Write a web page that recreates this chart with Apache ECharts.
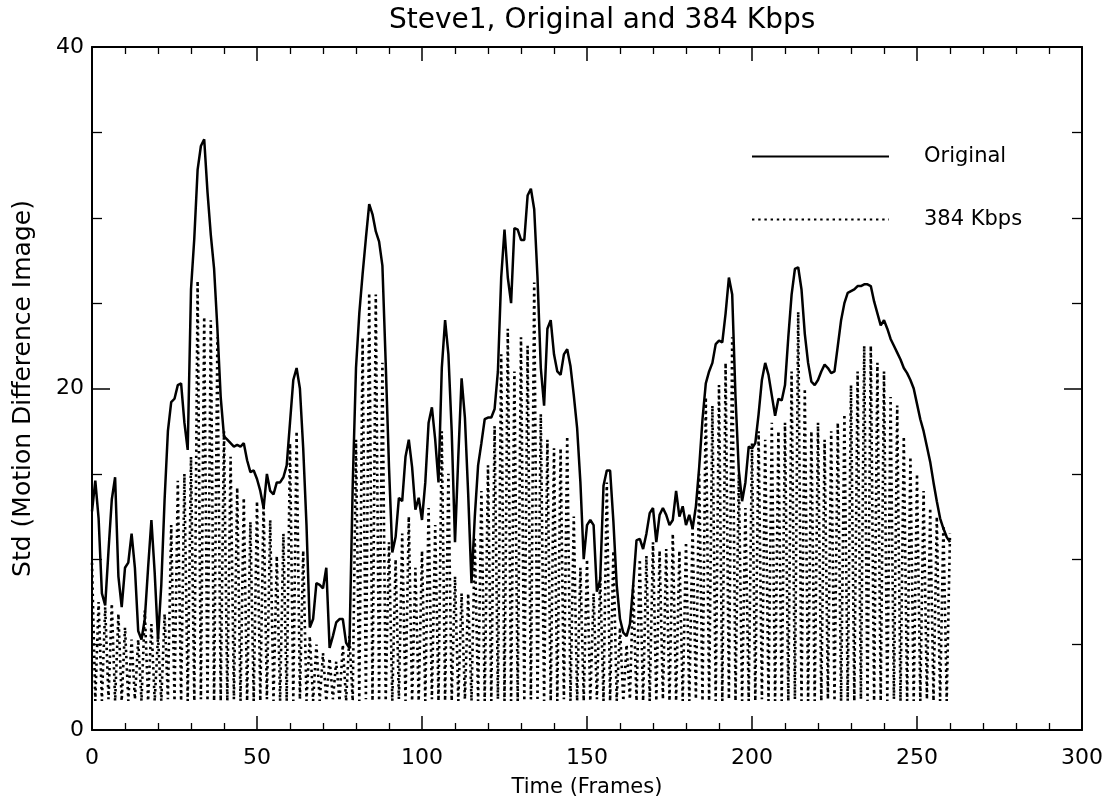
<!DOCTYPE html>
<html>
<head>
<meta charset="utf-8">
<script src="https://cdn.jsdelivr.net/npm/echarts@6/dist/echarts.min.js"></script>
<style>
html,body{margin:0;padding:0;background:#fff;}
#chart{width:1106px;height:808px;}
</style>
</head>
<body>
<div id="chart"></div>
<script>
// ---- data ----
const title = "Steve1, Original and 384 Kbps";
const xTicks = [0, 50, 100, 150, 200, 250, 300];
const yTicks = [0, 20, 40];
const seriesNames = ["Original", "384 Kbps"];

// Std of motion difference image, original sequence, frames 0..260
const original = [
  12.8,14.6,12.4,8.0,7.3,10.5,13.5,14.8,9.0,7.2,
  9.5,9.8,11.5,9.5,5.8,5.3,6.5,9.5,12.3,9.2,
  5.3,8.5,13.5,17.5,19.2,19.4,20.2,20.3,18.0,16.4,
  25.8,28.8,32.8,34.2,34.6,31.5,29.0,27.0,23.5,19.5,
  17.2,17.0,16.8,16.6,16.7,16.6,16.8,15.8,15.1,15.2,
  14.7,14.0,13.0,15.0,14.0,13.8,14.5,14.5,14.8,15.5,
  18.0,20.5,21.2,20.0,16.5,12.0,6.0,6.5,8.6,8.5,
  8.3,9.5,4.8,5.5,6.3,6.5,6.5,5.1,4.8,14.3,
  21.2,24.4,26.7,28.8,30.8,30.2,29.2,28.6,27.2,21.5,
  15.4,10.4,11.3,13.6,13.4,16.0,17.0,15.4,12.9,13.6,
  12.3,14.5,18.0,18.9,17.0,14.5,21.2,24.0,22.0,17.5,
  11.0,16.0,20.6,18.3,13.8,8.6,12.5,15.5,16.8,18.2,
  18.3,18.3,18.8,21.0,26.5,29.3,26.5,25.0,29.4,29.3,
  28.7,28.7,31.3,31.7,30.5,26.5,21.2,19.0,23.5,24.0,
  22.0,21.0,20.8,22.0,22.3,21.3,19.6,17.7,14.5,10.0,
  12.0,12.3,12.0,8.1,8.8,14.3,15.2,15.2,12.2,8.5,
  6.5,5.7,5.5,6.2,8.5,11.1,11.2,10.6,11.5,12.7,
  13.0,11.0,12.6,13.0,12.6,12.0,12.3,14.0,12.5,13.1,
  12.0,12.6,11.8,13.1,15.4,18.2,20.3,21.0,21.5,22.6,
  22.8,22.7,24.4,26.5,25.5,19.5,15.2,13.4,14.5,16.6,
  16.5,16.8,18.5,20.5,21.5,20.8,19.6,18.4,19.4,19.3,
  20.2,23.0,25.5,27.0,27.1,25.8,23.2,21.5,20.4,20.2,
  20.5,21.0,21.4,21.2,20.9,21.0,22.5,24.0,25.0,25.6,
  25.7,25.8,26.0,26.0,26.1,26.1,26.0,25.1,24.4,23.7,
  24.0,23.5,22.9,22.5,22.1,21.7,21.2,20.9,20.5,20.0,
  19.1,18.2,17.5,16.6,15.7,14.5,13.4,12.4,11.8,11.3,
  11.0
];

// 384 Kbps coded sequence, frames 0..260 (alternating high / low frames)
const kbps384 = [
  9.8,1.7,7.5,1.7,7.2,1.8,7.4,1.7,6.8,1.7,
  6.0,1.7,5.3,1.8,5.3,1.7,7.0,1.7,6.2,1.7,
  5.5,1.7,6.8,1.8,12.0,1.7,14.6,1.7,15.0,1.7,
  16.0,1.7,26.3,1.8,24.2,1.7,24.0,1.7,23.0,1.7,
  17.5,1.7,16.0,1.8,14.2,1.7,13.6,1.7,12.2,1.7,
  13.4,1.7,13.4,1.8,12.3,1.7,10.2,1.7,11.5,1.7,
  16.8,1.7,17.5,1.8,10.5,1.7,5.5,1.7,5.0,1.7,
  4.5,1.7,4.2,1.8,4.0,1.7,5.0,1.7,5.5,1.7,
  17.0,1.7,23.0,1.8,25.6,1.7,25.5,1.7,21.5,1.7,
  11.0,1.7,10.0,1.8,11.5,1.7,12.5,1.7,9.5,1.7,
  10.5,1.7,13.0,1.8,12.0,1.7,17.5,1.7,15.0,1.7,
  9.0,1.7,8.0,1.8,8.0,1.7,11.2,1.7,14.0,1.7,
  15.5,1.7,17.8,1.8,22.0,1.7,23.5,1.7,21.0,1.7,
  23.0,1.7,22.5,1.8,26.2,1.7,18.5,1.7,17.0,1.7,
  16.5,1.7,16.5,1.8,17.2,1.7,12.5,1.7,9.5,1.7,
  10.0,1.7,8.0,1.8,9.0,1.7,14.5,1.7,10.5,1.7,
  6.0,1.7,5.0,1.8,8.5,1.7,10.0,1.7,10.2,1.7,
  11.0,1.7,10.5,1.8,10.6,1.7,11.5,1.7,10.5,1.7,
  11.0,1.7,12.0,1.8,15.0,1.7,19.5,1.7,19.0,1.7,
  20.2,1.7,21.5,1.8,23.0,1.7,15.0,1.7,13.0,1.7,
  16.8,1.7,17.5,1.8,17.0,1.7,18.0,1.7,17.5,1.7,
  18.0,1.7,21.0,1.8,24.5,1.7,20.0,1.7,17.5,1.7,
  18.0,1.7,17.0,1.8,17.5,1.7,18.0,1.7,18.5,1.7,
  20.2,1.7,21.0,1.8,22.5,1.7,22.5,1.7,21.5,1.7,
  21.0,1.7,19.5,1.8,19.0,1.7,17.2,1.7,16.0,1.7,
  15.0,1.7,14.0,1.8,13.0,1.7,12.5,1.7,12.0,1.7,
  11.5
];

// ---- chart ----
const FONT = "DejaVu Sans";
const frames = original.map((_, i) => i);
const chart = echarts.init(document.getElementById('chart'), null, {renderer: 'canvas'});

const axisLineStyle = {color: '#000', width: 2};
function xAx(pos, showLabel) {
  return {
    type: 'value', position: pos, min: xTicks[0], max: xTicks[xTicks.length - 1],
    interval: xTicks[1] - xTicks[0],
    axisLine: {show: true, onZero: false, lineStyle: axisLineStyle},
    axisTick: {show: true, inside: true, length: 14, lineStyle: {color: '#000', width: 1.5}},
    minorTick: {show: true, splitNumber: 5, length: 7, lineStyle: {color: '#000', width: 1.3}},
    splitLine: {show: false}, minorSplitLine: {show: false},
    axisLabel: {show: showLabel, color: '#000', fontFamily: FONT, fontSize: 22, margin: 17},
    name: showLabel ? 'Time (Frames)' : '', nameLocation: 'middle', nameGap: 47,
    nameTextStyle: {color: '#000', fontFamily: FONT, fontSize: 21}
  };
}
function yAx(pos, showLabel) {
  return {
    type: 'value', position: pos, min: yTicks[0], max: yTicks[yTicks.length - 1],
    interval: yTicks[1] - yTicks[0],
    axisLine: {show: true, onZero: false, lineStyle: axisLineStyle},
    axisTick: {show: true, inside: true, length: 18, lineStyle: {color: '#000', width: 1.5}},
    minorTick: {show: true, splitNumber: 4, length: 10, lineStyle: {color: '#000', width: 1.3}},
    splitLine: {show: false}, minorSplitLine: {show: false},
    axisLabel: {show: showLabel, color: '#000', fontFamily: FONT, fontSize: 22, margin: 8},
    name: showLabel ? 'Std (Motion Difference Image)' : '', nameLocation: 'middle', nameGap: 56,
    nameTextStyle: {color: '#000', fontFamily: FONT, fontSize: 25}
  };
}

chart.setOption({
  animation: false,
  backgroundColor: '#fff',
  color: ['#000', '#000'],
  title: {
    text: title, left: 384, top: 2,
    textStyle: {color: '#000', fontFamily: FONT, fontSize: 28, fontWeight: 'normal'}
  },
  grid: {left: 92, right: 23, top: 47, bottom: 78, containLabel: false},
  legend: {
    data: seriesNames, orient: 'vertical', left: 746, top: 141,
    itemWidth: 137, itemHeight: 16, itemGap: 42,
    itemStyle: {opacity: 0},
    textStyle: {color: '#000', fontFamily: FONT, fontSize: 21, padding: [0, 0, 0, 30]}
  },
  xAxis: [xAx('bottom', true), xAx('top', false)],
  yAxis: [yAx('left', true), yAx('right', false)],
  series: [
    {
      name: seriesNames[1], type: 'line', xAxisIndex: 0, yAxisIndex: 0,
      data: frames.map((f, i) => [f, kbps384[i]]),
      symbol: 'none', z: 2, itemStyle: {color: '#000'},
      lineStyle: {color: '#000', width: 2.6, type: [2.4, 3.8], cap: 'butt'}
    },
    {
      name: seriesNames[0], type: 'line', xAxisIndex: 0, yAxisIndex: 0,
      data: frames.map((f, i) => [f, original[i]]),
      symbol: 'none', z: 3, itemStyle: {color: '#000'},
      lineStyle: {color: '#000', width: 2.5, type: 'solid'}
    }
  ]
});
</script>
</body>
</html>
